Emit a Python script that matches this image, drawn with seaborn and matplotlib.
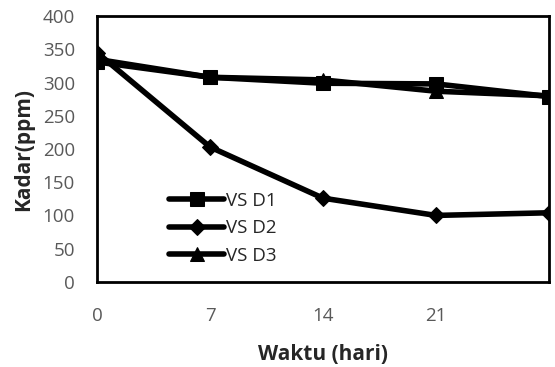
import matplotlib
matplotlib.use("Agg")
import matplotlib.pyplot as plt
import seaborn as sns
import pandas as pd

days = [0, 7, 14, 21, 28]
vs_d1 = [331, 308, 299, 298, 279]
vs_d2 = [345, 203, 126, 100, 104]
vs_d3 = [335, 308, 304, 287, 280]
series_names = ["VS D1", "VS D2", "VS D3"]
x_ticks = [0, 7, 14, 21]
y_ticks = [0, 50, 100, 150, 200, 250, 300, 350, 400]

df = pd.DataFrame({
    "day": days * 3,
    "value": vs_d1 + vs_d2 + vs_d3,
    "series": [series_names[0]] * 5 + [series_names[1]] * 5 + [series_names[2]] * 5,
})

sns.set_style("white")
plt.rcParams["font.family"] = ["Open Sans", "DejaVu Sans"]

fig = plt.figure(figsize=(5.55, 3.67), dpi=100)
ax = fig.add_axes([0.175, 0.232, 0.814, 0.724])

markers = {"VS D1": "s", "VS D2": "D", "VS D3": "^"}
msize = {"VS D1": 10, "VS D2": 8, "VS D3": 10}
for name in series_names:
    sub = df[df["series"] == name]
    sns.lineplot(data=sub, x="day", y="value", ax=ax, color="black",
                 linewidth=4, marker=markers[name], markersize=msize[name],
                 markeredgecolor="black", label=name)

ax.set_xlim(0, 28)
ax.set_ylim(0, 400)
ax.set_xticks(x_ticks + [28])
ax.set_xticklabels([str(t) for t in x_ticks] + [""])
ax.set_yticks(y_ticks)
ax.set_yticklabels([str(t) for t in y_ticks])
ax.tick_params(axis="both", direction="in", length=5, width=1.5, colors="black",
               labelcolor="#595959", labelsize=13.5)
ax.tick_params(axis="x", pad=18)
ax.tick_params(axis="y", pad=16)
for sp in ax.spines.values():
    sp.set_linewidth(2)
    sp.set_color("black")

ax.set_xlabel("Waktu (hari)", fontsize=15, fontweight="bold", labelpad=14)
ax.set_ylabel("Kadar(ppm)", fontsize=15, fontweight="bold", labelpad=6)

leg = ax.legend(loc="lower left", bbox_to_anchor=(0.16, 0.065), frameon=False,
                fontsize=13.5, handlelength=2.9, handletextpad=0.1,
                labelspacing=0.5, borderaxespad=0, borderpad=0)

fig.savefig("out.png", dpi=100)
